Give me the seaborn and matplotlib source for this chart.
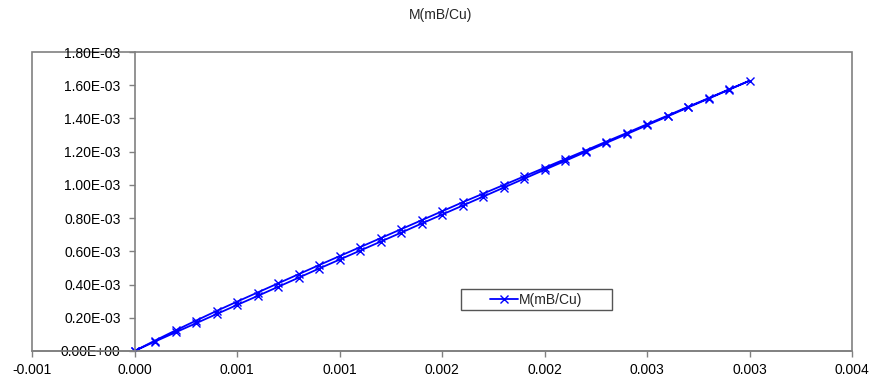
import matplotlib
matplotlib.use("Agg")
import matplotlib.pyplot as plt
from matplotlib.patches import Rectangle
import seaborn as sns
import numpy as np
import pandas as pd

# field values (sweep up then back down), magnetisation in units of 1e-3
field_up = [0.0000, 0.0001, 0.0002, 0.0003, 0.0004, 0.0005, 0.0006, 0.0007, 0.0008, 0.0009,
            0.0010, 0.0011, 0.0012, 0.0013, 0.0014, 0.0015, 0.0016, 0.0017, 0.0018, 0.0019,
            0.0020, 0.0021, 0.0022, 0.0023, 0.0024, 0.0025, 0.0026, 0.0027, 0.0028, 0.0029,
            0.0030]
m_up = [0.000, 0.057, 0.112, 0.167, 0.222, 0.277, 0.331, 0.386, 0.441, 0.496,
        0.550, 0.604, 0.658, 0.712, 0.767, 0.821, 0.875, 0.929, 0.983, 1.037,
        1.091, 1.144, 1.198, 1.252, 1.305, 1.359, 1.412, 1.466, 1.519, 1.573,
        1.627]
field_down = [0.0029, 0.0028, 0.0027, 0.0026, 0.0025, 0.0024, 0.0023, 0.0022, 0.0021, 0.0020,
              0.0019, 0.0018, 0.0017, 0.0016, 0.0015, 0.0014, 0.0013, 0.0012, 0.0011, 0.0010,
              0.0009, 0.0008, 0.0007, 0.0006, 0.0005, 0.0004, 0.0003, 0.0002, 0.0001, 0.0000]
m_down = [1.575, 1.522, 1.470, 1.417, 1.365, 1.312, 1.260, 1.207, 1.155, 1.103,
          1.051, 0.999, 0.947, 0.895, 0.841, 0.787, 0.733, 0.679, 0.625, 0.571,
          0.517, 0.462, 0.407, 0.352, 0.297, 0.241, 0.183, 0.124, 0.063, 0.000]

xtick_vals = [-0.0005, 0.0, 0.0005, 0.001, 0.0015, 0.002, 0.0025, 0.003, 0.0035]
xtick_labels = ['-0.001', '0.000', '0.001', '0.001', '0.002', '0.002', '0.003', '0.003', '0.004']
ytick_vals = [0.0, 0.0002, 0.0004, 0.0006, 0.0008, 0.0010, 0.0012, 0.0014, 0.0016, 0.0018]
ytick_labels = ['0.00E+00', '0.20E-03', '0.40E-03', '0.60E-03', '0.80E-03',
                '1.00E-03', '1.20E-03', '1.40E-03', '1.60E-03', '1.80E-03']

sns.set_style("white")
plt.rcParams['font.family'] = ['Liberation Sans', 'DejaVu Sans']
plt.rcParams['font.size'] = 10

df = pd.DataFrame({'H': field_up + field_down,
                   'M': [v * 1e-3 for v in m_up + m_down]})

fig = plt.figure(figsize=(8.71, 3.83), dpi=100)
ax = fig.add_axes([32 / 871, 1 - 351 / 383, 820 / 871, 299 / 383])

sns.lineplot(data=df, x='H', y='M', sort=False, estimator=None, ax=ax,
             color='#0000ff', lw=1.3, marker='x', markersize=6,
             markeredgecolor='#0000ff', markeredgewidth=1.0, label='M(mB/Cu)')

ax.set_xlim(-0.0005, 0.0035)
ax.set_ylim(0, 0.0018)
ax.set_xticks(xtick_vals)
ax.set_xticklabels(xtick_labels)
ax.set_yticks(ytick_vals)
ax.set_yticklabels(ytick_labels)
ax.set_xlabel('')
ax.set_ylabel('')

grey = '#808080'
for s in ['top', 'right']:
    ax.spines[s].set_visible(False)
ax.spines['left'].set_position(('data', 0))
ax.spines['left'].set_color(grey)
ax.spines['bottom'].set_color(grey)
ax.spines['left'].set_linewidth(1.2)
ax.spines['bottom'].set_linewidth(1.2)
ax.add_patch(Rectangle((0, 0), 1, 1, transform=ax.transAxes, fill=False,
                       edgecolor=grey, lw=1.2, clip_on=False, zorder=0))

ax.tick_params(axis='both', direction='out', length=4, width=1, color=grey,
               labelcolor='black', labelsize=10)
ax.tick_params(axis='x', pad=5)
ax.tick_params(axis='y', pad=6)
ax.tick_params(axis='y', left=True)
ax.tick_params(axis='x', bottom=True)

leg = ax.legend(loc='center', bbox_to_anchor=(0.615, 0.172), frameon=False,
                handlelength=2.0, handletextpad=0.1, fontsize=10)
ax.add_patch(Rectangle((0.523, 0.137), 0.184, 0.070, transform=ax.transAxes,
                       fill=False, edgecolor='#555555', lw=1.0, clip_on=False))

fig.text(441 / 871, 1 - 15 / 383, 'M(mB/Cu)', ha='center', va='center', fontsize=10)

fig.savefig('out.png', dpi=100)
